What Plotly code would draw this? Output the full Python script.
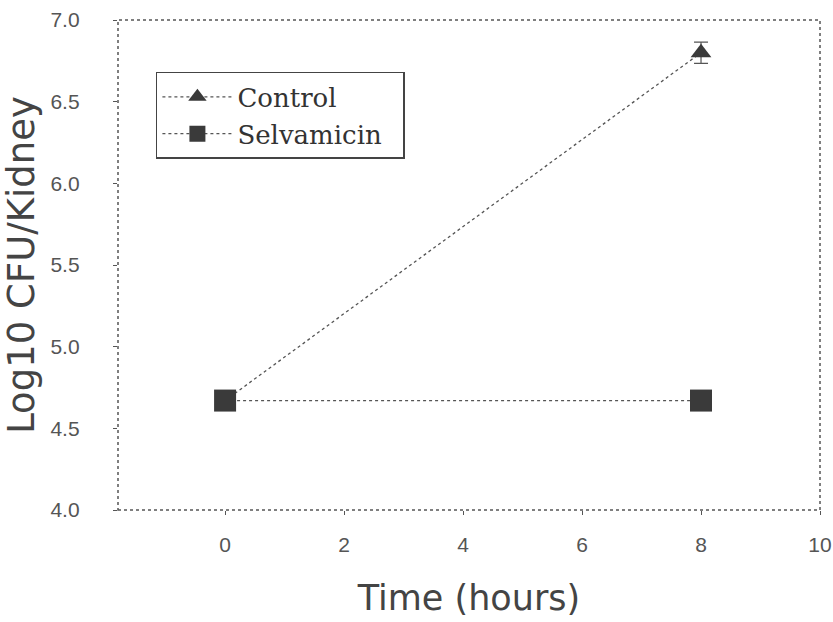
import plotly.graph_objects as go

time_hours = [0, 8]
control = [4.67, 6.80]
control_err = [0.0, 0.065]
selvamicin = [4.67, 4.67]
series_names = ["Control", "Selvamicin"]
x_ticks = [0, 2, 4, 6, 8, 10]
y_ticks = [4.0, 4.5, 5.0, 5.5, 6.0, 6.5, 7.0]
y_tick_text = [f"{v:.1f}" + "\u00a0" * 5 for v in y_ticks]

fig = go.Figure()
fig.add_trace(go.Scatter(
    x=time_hours, y=control, name=series_names[0], mode="lines+markers",
    line=dict(color="#555555", width=1.3, dash="dot"),
    marker=dict(symbol="triangle-up", size=18, color="#3a3a3a"),
    error_y=dict(type="data", array=control_err, color="#555555", thickness=1.2, width=7),
))
fig.add_trace(go.Scatter(
    x=time_hours, y=selvamicin, name=series_names[1] + "\u00a0\u00a0", mode="lines+markers",
    line=dict(color="#555555", width=1.3, dash="dot"),
    marker=dict(symbol="square", size=22, color="#3a3a3a"),
))

tick_font = dict(family="Liberation Sans, Arial", size=21, color="#555555")
axis_common = dict(
    showline=False, showgrid=False, zeroline=False, automargin=False,
    ticks="outside", ticklen=4, tickcolor="#555555", tickwidth=1,
    tickfont=tick_font,
)
fig.update_xaxes(range=[-1.8, 10], tickvals=x_ticks, ticklabelstandoff=12,
                 title=dict(text="Time (hours)", font=dict(family="DejaVu Sans", size=35, color="#444444"), standoff=30),
                 **axis_common)
fig.update_yaxes(range=[4.0, 7.0], tickvals=y_ticks, ticktext=y_tick_text,
                 title=dict(text="Log10 CFU/Kidney", font=dict(family="DejaVu Sans", size=37, color="#444444"), standoff=8),
                 **axis_common)

fig.add_shape(type="rect", xref="paper", yref="paper", x0=0, y0=0, x1=1, y1=1,
              line=dict(color="#555555", width=1.5, dash="dot"), layer="above")

fig.update_layout(
    width=833, height=622,
    margin=dict(l=118, r=13, t=20, b=112),
    plot_bgcolor="white", paper_bgcolor="white",
    legend=dict(x=0.054, y=0.894, xanchor="left", yanchor="top",
                bordercolor="#444444", borderwidth=1.5, bgcolor="white",
                font=dict(family="DejaVu Serif", size=26, color="#333333"),
                itemwidth=70, tracegroupgap=0),
    showlegend=True,
)

fig.write_html("out.html")
